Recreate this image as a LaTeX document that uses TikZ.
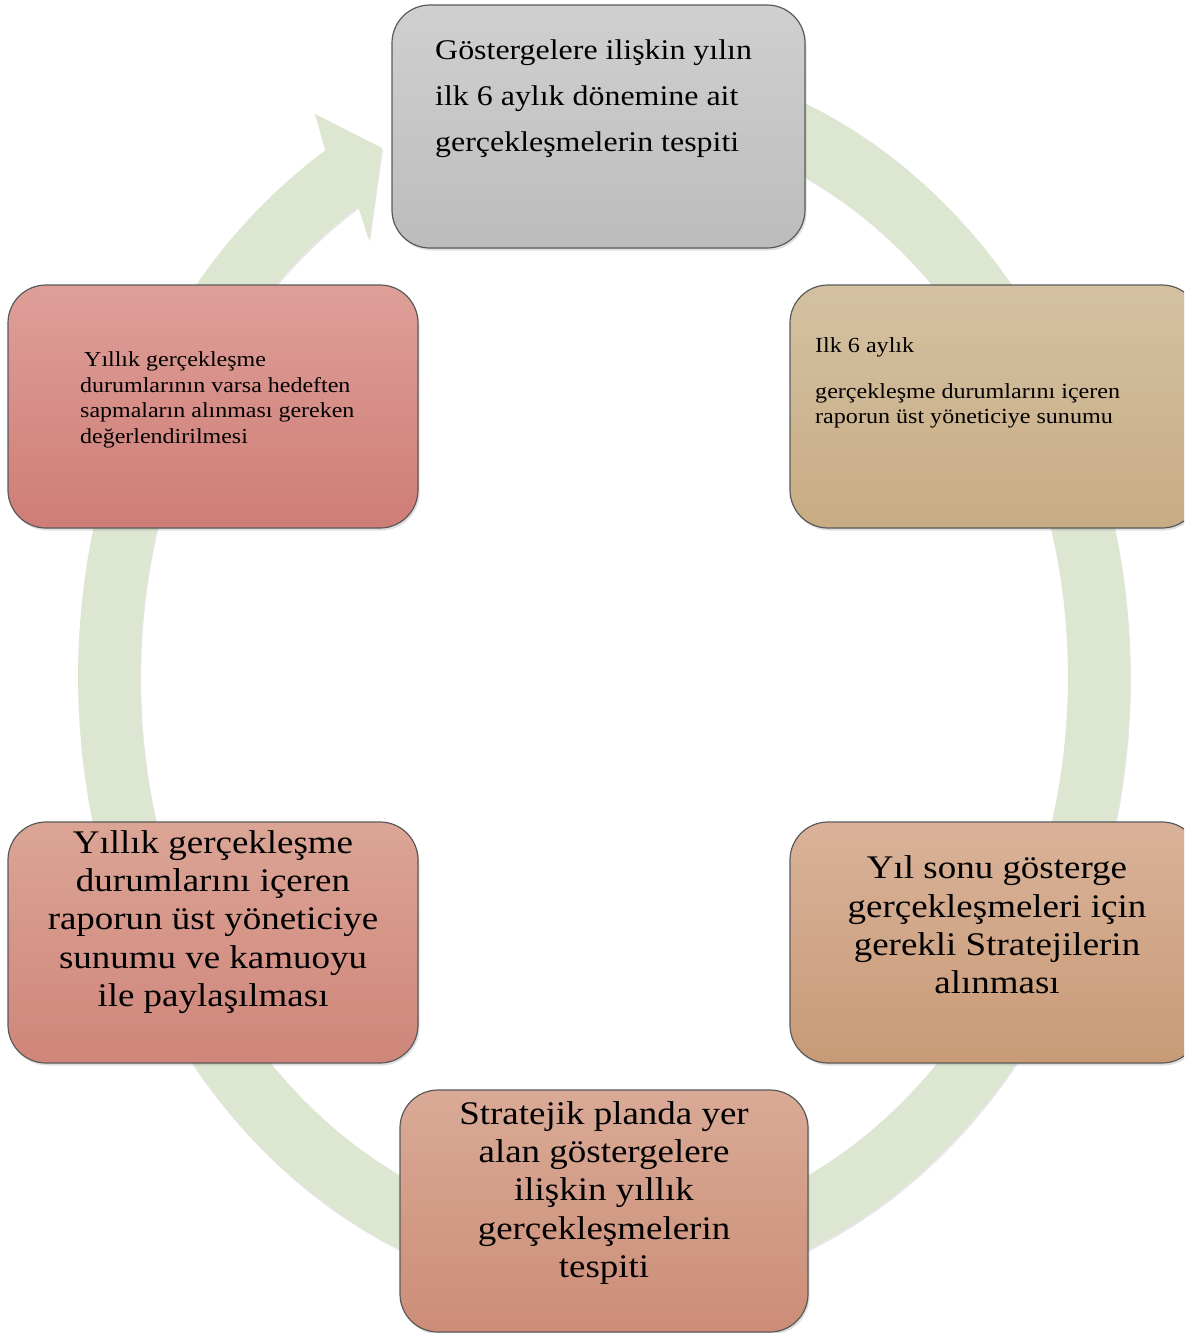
\documentclass[tikz,border=0pt]{standalone}
\usepackage{fontspec}
\newfontfamily\stagefont[FakeStretch=1.12]{Liberation Serif}
\usepackage{tikz}
\usetikzlibrary{shadows}
\definecolor{RingGreen}{RGB}{220,230,208}
\definecolor{EdgeGray}{RGB}{90,90,90}
\definecolor{GrayTop}{RGB}{208,208,208}
\definecolor{GrayBot}{RGB}{188,188,188}
\definecolor{TanTop}{RGB}{212,193,162}
\definecolor{TanBot}{RGB}{200,172,131}
\definecolor{RoseTop}{RGB}{222,159,153}
\definecolor{RoseBot}{RGB}{207,125,118}
\definecolor{SalmonTop}{RGB}{219,165,150}
\definecolor{SalmonBot}{RGB}{207,133,122}
\definecolor{SandTop}{RGB}{217,178,153}
\definecolor{SandBot}{RGB}{200,155,119}
\definecolor{ClayTop}{RGB}{217,170,150}
\definecolor{ClayBot}{RGB}{204,141,119}

\begin{document}
\begin{tikzpicture}[x=1pt, y=-1pt,
    stage/.style={rectangle, rounded corners=38pt, draw=EdgeGray, line width=1.2pt,
                  minimum width=410pt, minimum height=243pt, inner sep=0pt,
                  drop shadow={opacity=0.25, shadow xshift=1.5pt, shadow yshift=-2.5pt}},
    bigtxt/.style={font=\stagefont\fontsize{33}{38.3}\selectfont,
                   align=center, inner sep=0pt},
    smalltxt/.style={font=\stagefont\fontsize{21.4}{25.5}\selectfont,
                     align=left, inner sep=0pt, anchor=west}
  ]
  \useasboundingbox (0,0) rectangle (1184,1333);
  \clip (0,0) rectangle (1184,1333);

  % Ring arrow
  \fill[RingGreen, drop shadow={opacity=0.2, shadow xshift=1pt, shadow yshift=-2pt}]
    plot[domain=-95:238, samples=150] ({604+526*cos(\x)}, {677+621*sin(\x)})
    -- (315,114) -- (382,148) -- (369,240)
    -- plot[domain=238:-95, samples=150] ({604+464*cos(\x)}, {677+555*sin(\x)})
    -- cycle;

  % Stages
  \node[stage, top color=GrayTop, bottom color=GrayBot, minimum width=413pt]
        (half) at (598.5,126.5) {};
  \node[stage, top color=TanTop, bottom color=TanBot] (report) at (995,406.5) {};
  \node[stage, top color=RoseTop, bottom color=RoseBot] (review) at (213,406.5) {};
  \node[stage, top color=SalmonTop, bottom color=SalmonBot, minimum height=241pt]
        (publish) at (213,942.5) {};
  \node[stage, top color=SandTop, bottom color=SandBot, minimum height=241pt]
        (strategy) at (995,942.5) {};
  \node[stage, top color=ClayTop, bottom color=ClayBot, minimum width=408pt,
        minimum height=242pt] (annual) at (604,1211) {};

  % Texts
  \node[font=\stagefont\fontsize{28.5}{46}\selectfont, align=left, inner sep=0pt,
        anchor=west] (half-txt) at (435,99)
        {Göstergelere ilişkin yılın\\ilk 6 aylık dönemine ait\\gerçekleşmelerin tespiti};
  \node[smalltxt, font=\stagefont\fontsize{21.5}{25}\selectfont] (report-txt) at (815,383)
        {Ilk 6 aylık\\[21pt]gerçekleşme durumlarını içeren\\raporun üst yöneticiye sunumu};
  \node[smalltxt] (review-txt) at (80,400)
        {\hspace*{4pt}Yıllık gerçekleşme\\durumlarının varsa hedeften\\sapmaların alınması gereken\\değerlendirilmesi};
  \node[bigtxt] (publish-txt) at (213,922)
        {Yıllık gerçekleşme\\durumlarını içeren\\raporun üst yöneticiye\\sunumu ve kamuoyu\\ile paylaşılması};
  \node[bigtxt] (strategy-txt) at (997,925)
        {Yıl sonu gösterge\\gerçekleşmeleri için\\gerekli Stratejilerin\\alınması};
  \node[bigtxt] (annual-txt) at (604,1193)
        {Stratejik planda yer\\alan göstergelere\\ilişkin yıllık\\gerçekleşmelerin\\tespiti};
\end{tikzpicture}
\end{document}
